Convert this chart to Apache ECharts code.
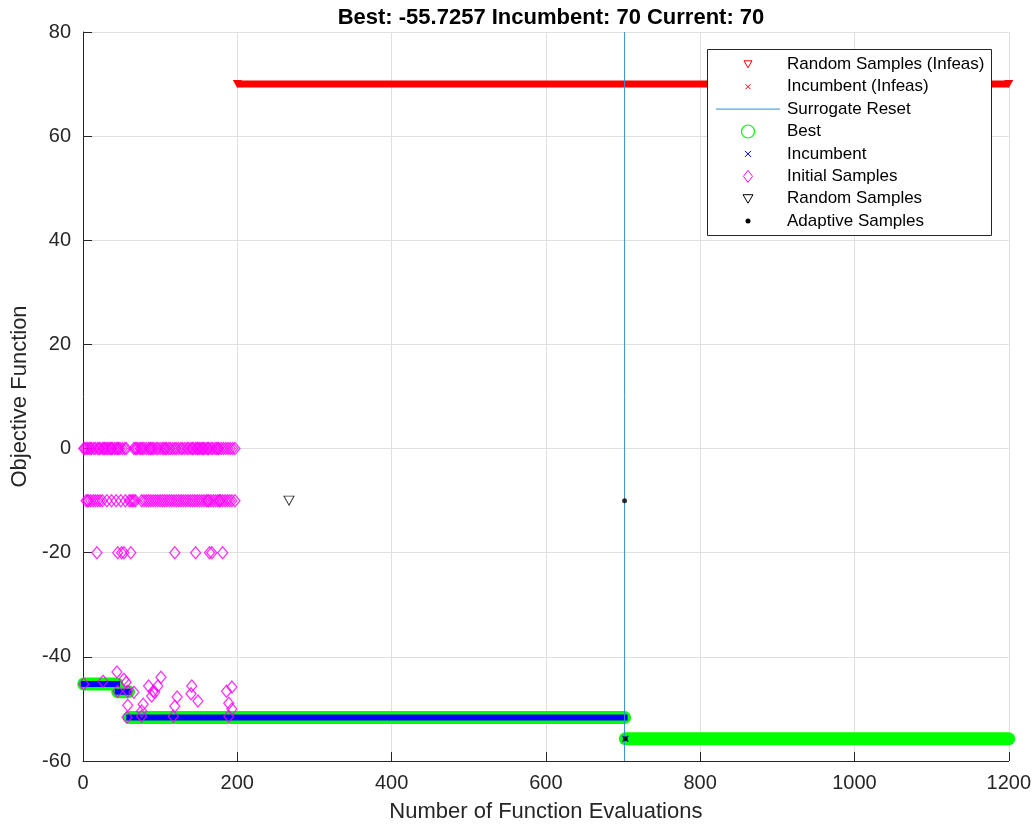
<!DOCTYPE html>
<html>
<head>
<meta charset="utf-8">
<script src="https://cdn.jsdelivr.net/npm/echarts@6/dist/echarts.min.js"></script>
<style>
  html, body { margin: 0; padding: 0; background: #fff; }
  #chart { width: 1034px; height: 828px; }
</style>
</head>
<body>
<div id="chart"></div>
<script>
// step traces: [firstEval, lastEval, value]
const bestSegs = [[1, 44, -45.2], [45, 59, -46.7], [60, 702, -51.65], [703, 1200, -55.7257]];
const incumbentSegs = [[1, 44, -45.2], [45, 59, -46.7], [60, 702, -51.65]];
const incumbentPts = [[703, -55.7257]];
const randomInfeasSeg = [200, 1200, 70];
const incumbentInfeasSeg = [703, 1200, 70];
const resetX = 702;

// initial samples, by row
const initRow0 = [1, 2, 4, 6, 8, 10, 11, 14, 16, 19, 21, 22, 25, 27, 28, 30, 32, 34, 36, 37, 38, 41, 43, 45,
  46, 48, 51, 54, 56, 66, 68, 69, 71, 74, 75, 77, 79, 82, 85, 87, 88, 90, 92, 95, 97, 100, 103, 105, 107,
  108, 111, 113, 116, 119, 121, 124, 127, 129, 132, 135, 137, 140, 142, 143, 146, 148, 149, 151, 153, 155,
  156, 158, 161, 162, 163, 166, 168, 171, 173, 175, 176, 179, 182, 185, 188, 191, 194, 197];
const initRow10 = [4, 6, 7, 10, 13, 16, 19, 22, 25, 31, 37, 43, 49, 55, 60, 62, 64, 66, 68,
  76, 79, 82, 85, 88, 91, 94, 97, 100, 103, 106, 109, 112, 115, 118, 121, 124, 127, 130, 133, 136,
  139, 142, 145, 148, 151, 154, 157, 160, 162, 163, 166, 169, 172, 175, 177, 178, 181, 184, 187, 190, 193, 197];
const initRow20 = [18, 45, 50, 53, 62, 119, 146, 164, 167, 181];
const initLow = [[1, -45.2], [26, -44.7], [44, -42.9], [53, -44.3], [56, -44.9], [45, -46.6], [58, -46.6],
  [66, -46.8], [58, -49.3], [57, -51.6], [78, -49.1], [76, -50.4], [76, -51.4], [85, -45.6], [91, -46.6],
  [93, -46.8], [89, -47.5], [101, -43.9], [97, -45.6], [122, -47.7], [119, -49.5], [117, -51.4],
  [141, -45.6], [140, -47.1], [149, -48.5], [186, -46.6], [193, -45.8], [189, -48.9], [193, -50.0],
  [189, -51.4]];
const randomSamples = [[267, -10]];
const adaptiveSamples = [[702, -10], [703, -55.7257]];

const legendNames = ['Random Samples (Infeas)', 'Incumbent (Infeas)', 'Surrogate Reset', 'Best',
  'Incumbent', 'Initial Samples', 'Random Samples', 'Adaptive Samples'];

const FONT = 'Liberation Sans, Arial, Helvetica, sans-serif';
const AX = '#262626';
const xPath = 'path://M0,0L10,10M0,10L10,0';

function segLine(seg, color, width, cap, z) {
  return {
    type: 'line', data: [[seg[0], seg[2]], [seg[1], seg[2]]], symbol: 'none',
    lineStyle: { color: color, width: width, cap: cap }, z: z, silent: true
  };
}

const series = [];
bestSegs.forEach((s) => series.push(segLine(s, '#00ff00', 13, 'round', 2)));
incumbentSegs.forEach((s) => series.push(segLine(s, '#0000ff', 6, 'square', 3)));
series.push({
  type: 'scatter', data: incumbentPts, symbol: xPath, symbolSize: 6, z: 3,
  itemStyle: { color: 'transparent', borderColor: '#0000ff', borderWidth: 1.5 }
});
series.push(segLine(incumbentInfeasSeg, '#ff0000', 5, 'butt', 4));
series.push({
  type: 'line', data: [[randomInfeasSeg[0], randomInfeasSeg[2]], [randomInfeasSeg[1], randomInfeasSeg[2]]],
  symbol: 'triangle', symbolRotate: 180, symbolSize: [9, 8], showSymbol: true, z: 4, silent: true,
  itemStyle: { color: '#ff0000' }, lineStyle: { color: '#ff0000', width: 7 }
});
series.push({
  type: 'line', data: [[resetX, -60], [resetX, 80]], symbol: 'none', z: 5, silent: true,
  lineStyle: { color: '#2f8fd6', width: 1 }
});
series.push({
  type: 'scatter', z: 6, symbol: 'diamond', symbolSize: [10, 12],
  data: initRow0.map((x) => [x, 0]).concat(initRow10.map((x) => [x, -10]),
    initRow20.map((x) => [x, -20]), initLow),
  itemStyle: { color: 'transparent', borderColor: '#ff00ff', borderWidth: 1.3 }
});
series.push({
  type: 'scatter', z: 6, symbol: 'triangle', symbolRotate: 180, symbolSize: [10, 9], data: randomSamples,
  itemStyle: { color: 'transparent', borderColor: '#000', borderWidth: 1 }
});
series.push({
  type: 'scatter', z: 7, symbol: 'circle', symbolSize: 5, data: adaptiveSamples,
  itemStyle: { color: '#000' }
});

// legend box drawn with graphic elements
const LX = 707, LY = 49, LW = 284, LH = 186, ROW0 = 64.3, ROWH = 22.4, IX = 748, TX = 787;
function cross(cy, h, color) {
  return [
    { type: 'line', shape: { x1: IX - h, y1: cy - h, x2: IX + h, y2: cy + h }, style: { stroke: color, lineWidth: 1 } },
    { type: 'line', shape: { x1: IX - h, y1: cy + h, x2: IX + h, y2: cy - h }, style: { stroke: color, lineWidth: 1 } }
  ];
}
function legendIcon(i, cy) {
  const red = '#ff0000';
  switch (i) {
    case 0: return [{ type: 'polygon', shape: { points: [[IX - 4, cy - 3.5], [IX + 4, cy - 3.5], [IX, cy + 3.5]] }, style: { fill: 'none', stroke: red, lineWidth: 1 } }];
    case 1: return cross(cy, 2.5, red);
    case 2: return [{ type: 'line', shape: { x1: 716, y1: cy, x2: 780, y2: cy }, style: { stroke: '#2f8fd6', lineWidth: 1 } }];
    case 3: return [{ type: 'circle', shape: { cx: IX, cy: cy, r: 6.5 }, style: { fill: 'none', stroke: '#00ff00', lineWidth: 1.2 } }];
    case 4: return cross(cy, 3, '#0000ff');
    case 5: return [{ type: 'polygon', shape: { points: [[IX, cy - 6], [IX + 4.5, cy], [IX, cy + 6], [IX - 4.5, cy]] }, style: { fill: 'none', stroke: '#ff00ff', lineWidth: 1 } }];
    case 6: return [{ type: 'polygon', shape: { points: [[IX - 5, cy - 4], [IX + 5, cy - 4], [IX, cy + 4.5]] }, style: { fill: 'none', stroke: '#000', lineWidth: 1 } }];
    default: return [{ type: 'circle', shape: { cx: IX, cy: cy, r: 2.5 }, style: { fill: '#000' } }];
  }
}
const graphics = [{
  type: 'rect', shape: { x: LX + 0.5, y: LY + 0.5, width: LW, height: LH }, z: 100,
  style: { fill: '#fff', stroke: AX, lineWidth: 1 }
}];
legendNames.forEach((name, i) => {
  const cy = ROW0 + i * ROWH;
  legendIcon(i, cy).forEach((el) => { el.z = 101; graphics.push(el); });
  graphics.push({
    type: 'text', x: TX, y: cy, z: 101,
    style: { text: name, font: '17px ' + FONT, fill: '#000', verticalAlign: 'middle', align: 'left' }
  });
});

const axisCommon = {
  nameLocation: 'middle',
  nameTextStyle: { fontFamily: FONT, fontSize: 22, color: AX },
  axisLine: { show: true, onZero: false, lineStyle: { color: AX, width: 1 } },
  axisTick: { show: true, inside: true, length: 9, lineStyle: { color: AX } },
  axisLabel: { fontFamily: FONT, fontSize: 20, color: AX, margin: 12, formatter: (v) => String(v) },
  splitLine: { show: true, lineStyle: { color: '#dfdfdf', width: 1 } }
};

const chart = echarts.init(document.getElementById('chart'));
chart.setOption({
  animation: false,
  backgroundColor: '#fff',
  title: {
    text: 'Best: -55.7257 Incumbent: 70 Current: 70',
    left: 546, top: 2, textAlign: 'center',
    textStyle: { fontFamily: FONT, fontSize: 22, fontWeight: 'bold', color: '#000' }
  },
  grid: { left: 83, right: 24, top: 32, bottom: 66, containLabel: false },
  xAxis: Object.assign({}, axisCommon, {
    type: 'value', min: 0, max: 1200, interval: 200,
    name: 'Number of Function Evaluations', nameGap: 40
  }),
  yAxis: Object.assign({}, axisCommon, {
    type: 'value', min: -60, max: 80, interval: 20,
    name: 'Objective Function', nameGap: 50
  }),
  series: series,
  graphic: graphics
});
</script>
</body>
</html>
